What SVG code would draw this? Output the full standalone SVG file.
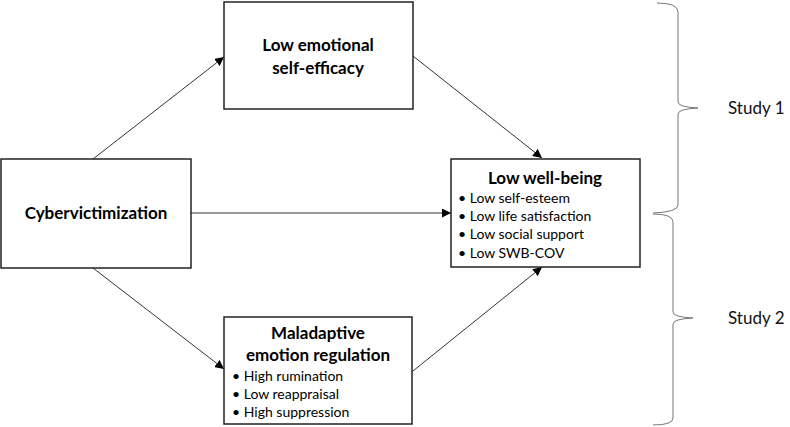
<svg xmlns="http://www.w3.org/2000/svg" width="790" height="427" viewBox="0 0 790 427">
<defs>
<marker id="ah" viewBox="0 0 10 10" refX="10" refY="5" markerWidth="9" markerHeight="9" markerUnits="userSpaceOnUse" orient="auto">
<path d="M0,0 L10,5 L0,10 z" fill="#000"/>
</marker>
<style>
.box{fill:#fff;stroke:#222;stroke-width:1.5}
.t{font-family:Lato,"Open Sans","Liberation Sans",sans-serif;font-weight:bold;font-size:17px;fill:#000;text-anchor:middle}
.b{font-family:Lato,"Open Sans","Liberation Sans",sans-serif;font-size:14px;fill:#000}
.s{font-family:Lato,"Open Sans","Liberation Sans",sans-serif;font-size:17px;fill:#111}
.c{stroke:#333;stroke-width:1;fill:none}
.br{stroke:#777;stroke-width:1;fill:none}
</style>
</defs>
<g id="connectors">
<line class="c" x1="93" y1="159" x2="224" y2="57" marker-end="url(#ah)"/>
<line class="c" x1="191" y1="213" x2="451" y2="213" marker-end="url(#ah)"/>
<line class="c" x1="93" y1="268" x2="224" y2="369" marker-end="url(#ah)"/>
<line class="c" x1="413" y1="56" x2="542" y2="158" marker-end="url(#ah)"/>
<line class="c" x1="413" y1="371" x2="542" y2="267" marker-end="url(#ah)"/>
</g>
<g id="self-efficacy">
<rect class="box" x="224" y="2" width="189" height="107"/>
<text class="t" x="318" y="51">Low emotional</text>
<text class="t" x="318" y="74">self-efficacy</text>
</g>
<g id="cybervictimization">
<rect class="box" x="1" y="159" width="190" height="109"/>
<text class="t" x="96" y="219">Cybervictimization</text>
</g>
<g id="well-being">
<rect class="box" x="451" y="159" width="189" height="108"/>
<text class="t" x="545" y="184">Low well-being</text>
<text class="b" x="458" y="203">• Low self-esteem</text>
<text class="b" x="458" y="221">• Low life satisfaction</text>
<text class="b" x="458" y="239">• Low social support</text>
<text class="b" x="458" y="258">• Low SWB-COV</text>
</g>
<g id="emotion-regulation">
<rect class="box" x="224" y="317" width="188" height="107"/>
<text class="t" x="318" y="339">Maladaptive</text>
<text class="t" x="318" y="361">emotion regulation</text>
<text class="b" x="232" y="381">• High rumination</text>
<text class="b" x="232" y="399">• Low reappraisal</text>
<text class="b" x="232" y="417">• High suppression</text>
</g>
<g id="study1">
<path class="br" d="M657,3 Q678,3 678,12 L678,102 Q678,107 698,108 Q678,109 678,114 L678,205 Q678,212 653,213"/>
<text class="s" x="728" y="114">Study 1</text>
</g>
<g id="study2">
<path class="br" d="M653,214 Q673,214 673,222 L673,312 Q673,317 693,318 Q673,319 673,324 L673,418 Q673,425 653,425"/>
<text class="s" x="728" y="324">Study 2</text>
</g>
</svg>
